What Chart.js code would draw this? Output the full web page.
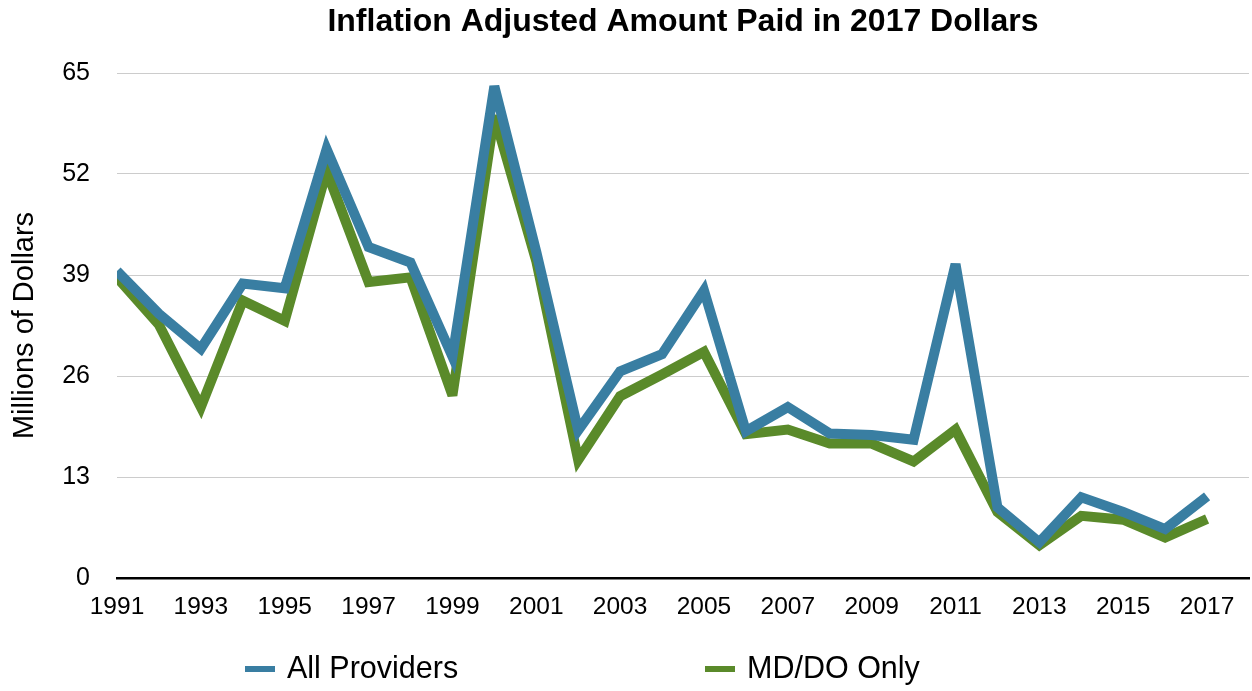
<!DOCTYPE html>
<html>
<head>
<meta charset="utf-8">
<script src="https://cdn.jsdelivr.net/npm/chart.js@4/dist/chart.umd.min.js"></script>
<style>
  body { margin: 0; background: #fff; }
</style>
</head>
<body>
<canvas id="myChart" width="1252" height="691"></canvas>
<script>
// values, millions of 2017 dollars
const years = [1991, 1992, 1993, 1994, 1995, 1996, 1997, 1998, 1999, 2000, 2001, 2002, 2003, 2004,
  2005, 2006, 2007, 2008, 2009, 2010, 2011, 2012, 2013, 2014, 2015, 2016, 2017];
const allProviders = [39.5, 34.0, 29.5, 37.9, 37.3, 55.2, 42.6, 40.6, 28.5, 63.3, 42.0, 19.0, 26.6, 28.8,
  37.0, 18.9, 22.0, 18.6, 18.4, 17.8, 40.4, 9.1, 4.6, 10.4, 8.5, 6.3, 10.5];
const mdDoOnly = [38.7, 32.6, 22.0, 35.7, 33.1, 52.4, 38.1, 38.7, 23.5, 59.5, 40.8, 15.2, 23.4, 26.2,
  29.1, 18.5, 19.1, 17.3, 17.3, 15.0, 19.1, 8.5, 4.2, 8.0, 7.5, 5.2, 7.6];
const tickYears = [1991, 1993, 1995, 1997, 1999, 2001, 2003, 2005, 2007, 2009, 2011, 2013, 2015, 2017];

const FONT = '"Liberation Sans", Arial, Helvetica, sans-serif';

const toPoints = (vals) => years.map((yr, i) => ({ x: yr, y: vals[i] }));

// legend under the plot, items spread out like the original
const legendX = [245, 705];
const bottomLegend = {
  id: 'bottomLegend',
  beforeDatasetsDraw(chart) {
    chart.ctx.miterLimit = 4;
  },
  afterDraw(chart) {
    const ctx = chart.ctx;
    ctx.save();
    ctx.font = '30.5px ' + FONT;
    ctx.textBaseline = 'middle';
    chart.data.datasets.forEach((ds, i) => {
      const x = legendX[i];
      const y = 669;
      ctx.fillStyle = ds.borderColor;
      ctx.fillRect(x, y - 3, 30, 6);
      ctx.fillStyle = '#000';
      ctx.fillText(ds.label, x + 42, y + 1);
    });
    ctx.restore();
  }
};

new Chart(document.getElementById('myChart'), {
  type: 'line',
  data: {
    datasets: [
      {
        label: 'All Providers',
        data: toPoints(allProviders),
        borderColor: '#397ea2',
        borderWidth: 10,
        borderJoinStyle: 'miter',
        pointRadius: 0,
        tension: 0
      },
      {
        label: 'MD/DO Only',
        data: toPoints(mdDoOnly),
        borderColor: '#5a8a2a',
        borderWidth: 10,
        borderJoinStyle: 'miter',
        pointRadius: 0,
        tension: 0
      }
    ]
  },
  options: {
    responsive: false,
    animation: false,
    layout: { padding: { top: 0, right: 3, bottom: 69, left: 0 } },
    plugins: {
      legend: { display: false },
      tooltip: { enabled: false },
      title: {
        display: true,
        fullSize: false,
        text: 'Inflation Adjusted Amount Paid in 2017 Dollars',
        color: '#000',
        font: { family: FONT, size: 32, weight: 'bold' },
        padding: { top: 3, bottom: 31.6 }
      }
    },
    scales: {
      x: {
        type: 'linear',
        min: 1991,
        max: 2018,
        afterBuildTicks: (axis) => { axis.ticks = tickYears.map(v => ({ value: v })); },
        afterFit: (scale) => { scale.height = 44; },
        grid: { display: false, drawTicks: false },
        border: { display: true, color: '#000', width: 2.5 },
        ticks: {
          color: '#000',
          padding: 15,
          maxRotation: 0,
          autoSkip: false,
          font: { family: FONT, size: 24.5 },
          callback: (v) => String(v)
        }
      },
      y: {
        min: 0,
        max: 65,
        afterFit: (scale) => { scale.width = 117; },
        grid: { color: '#cccccc', lineWidth: 1, drawTicks: false },
        border: { display: false },
        ticks: {
          stepSize: 13,
          color: '#000',
          padding: 27,
          font: { family: FONT, size: 25 }
        },
        title: {
          display: true,
          text: 'Millions of Dollars',
          color: '#000',
          font: { family: FONT, size: 29 },
          padding: { top: 8, bottom: 0 }
        }
      }
    }
  },
  plugins: [bottomLegend]
});
</script>
</body>
</html>
